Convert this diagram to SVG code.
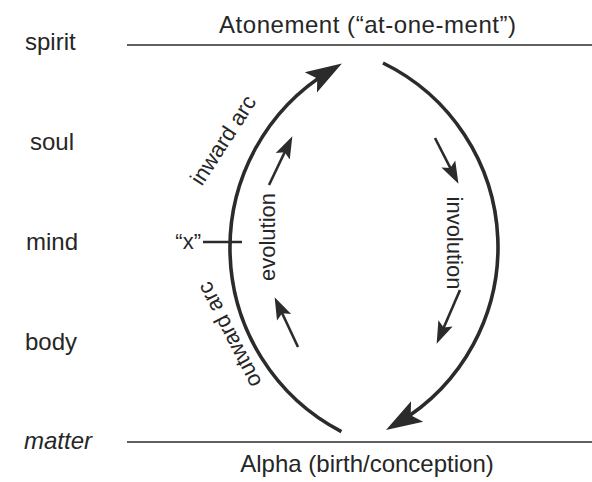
<svg xmlns="http://www.w3.org/2000/svg" width="592" height="482" viewBox="0 0 592 482">
<defs>
<style>
text{font-family:"Liberation Sans",Arial,sans-serif;fill:#262626}
.lbl{font-size:24px}
.rot{font-size:22px}
.rule{stroke:#2b2b2b;stroke-width:1.6;fill:none}
.arc{stroke:#2b2b2b;stroke-width:3.6;fill:none}
.small{stroke:#2b2b2b;stroke-width:2.6;fill:none}
</style>
<marker id="bigHead" markerUnits="userSpaceOnUse" markerWidth="40" markerHeight="30" viewBox="0 -12 32 24" refX="18" refY="0" orient="auto">
<path d="M0,-9.5 L29,0 L0,9.5 L6,0 z" fill="#2b2b2b"/>
</marker>
<marker id="smallHead" markerUnits="userSpaceOnUse" markerWidth="30" markerHeight="20" viewBox="0 -9 24 18" refX="12" refY="0" orient="auto">
<path d="M0,-7 L20,0 L0,7 L4,0 z" fill="#2b2b2b"/>
</marker>
</defs>
<rect width="592" height="482" fill="#ffffff"/>

<g id="levels">
<text class="lbl" x="25" y="50">spirit</text>
<text class="lbl" x="30" y="150">soul</text>
<text class="lbl" x="26" y="250">mind</text>
<text class="lbl" x="25" y="350">body</text>
<text class="lbl" x="24" y="449" font-style="italic">matter</text>
</g>

<g id="atonement">
<line class="rule" x1="127" y1="45" x2="592" y2="45"/>
<text class="lbl" x="219" y="33" textLength="297" lengthAdjust="spacing">Atonement (“at-one-ment”)</text>
</g>

<g id="alpha">
<line class="rule" x1="127" y1="442" x2="592" y2="442"/>
<text class="lbl" x="367" y="472" text-anchor="middle">Alpha (birth/conception)</text>
</g>

<g id="x-mark">
<text class="rot" x="201" y="249" text-anchor="end">“x”</text>
</g>

<g id="connectors">
<path id="left-arc" class="arc" d="M341.4,431.6 A207,207 0 0,1 330.1,70.7" marker-end="url(#bigHead)"/>
<path id="right-arc" class="arc" d="M383,63 A204.7,204.7 0 0,1 397.8,423" marker-end="url(#bigHead)"/>
<line class="small" x1="269" y1="185" x2="288.5" y2="144.2" marker-end="url(#smallHead)"/>
<line class="small" x1="298" y1="347" x2="278.4" y2="305.2" marker-end="url(#smallHead)"/>
<line class="small" x1="435" y1="138" x2="454.4" y2="175.9" marker-end="url(#smallHead)"/>
<line class="small" x1="460" y1="290" x2="440.2" y2="335.7" marker-end="url(#smallHead)"/>
<line class="small" x1="203" y1="242" x2="242" y2="242" stroke-width="2"/>
</g>

<g id="arc-labels">
<text class="rot" x="223" y="140" dy="0.35em" text-anchor="middle" transform="rotate(-57 223 140)">inward arc</text>
<text class="rot" x="229" y="335" dy="0.35em" text-anchor="middle" transform="rotate(-117 229 335)">outward arc</text>
<text class="rot" x="267" y="237" dy="0.35em" text-anchor="middle" transform="rotate(-90 267 237)">evolution</text>
<text class="rot" x="455" y="243" dy="0.35em" text-anchor="middle" transform="rotate(90 455 243)">involution</text>
</g>
</svg>
